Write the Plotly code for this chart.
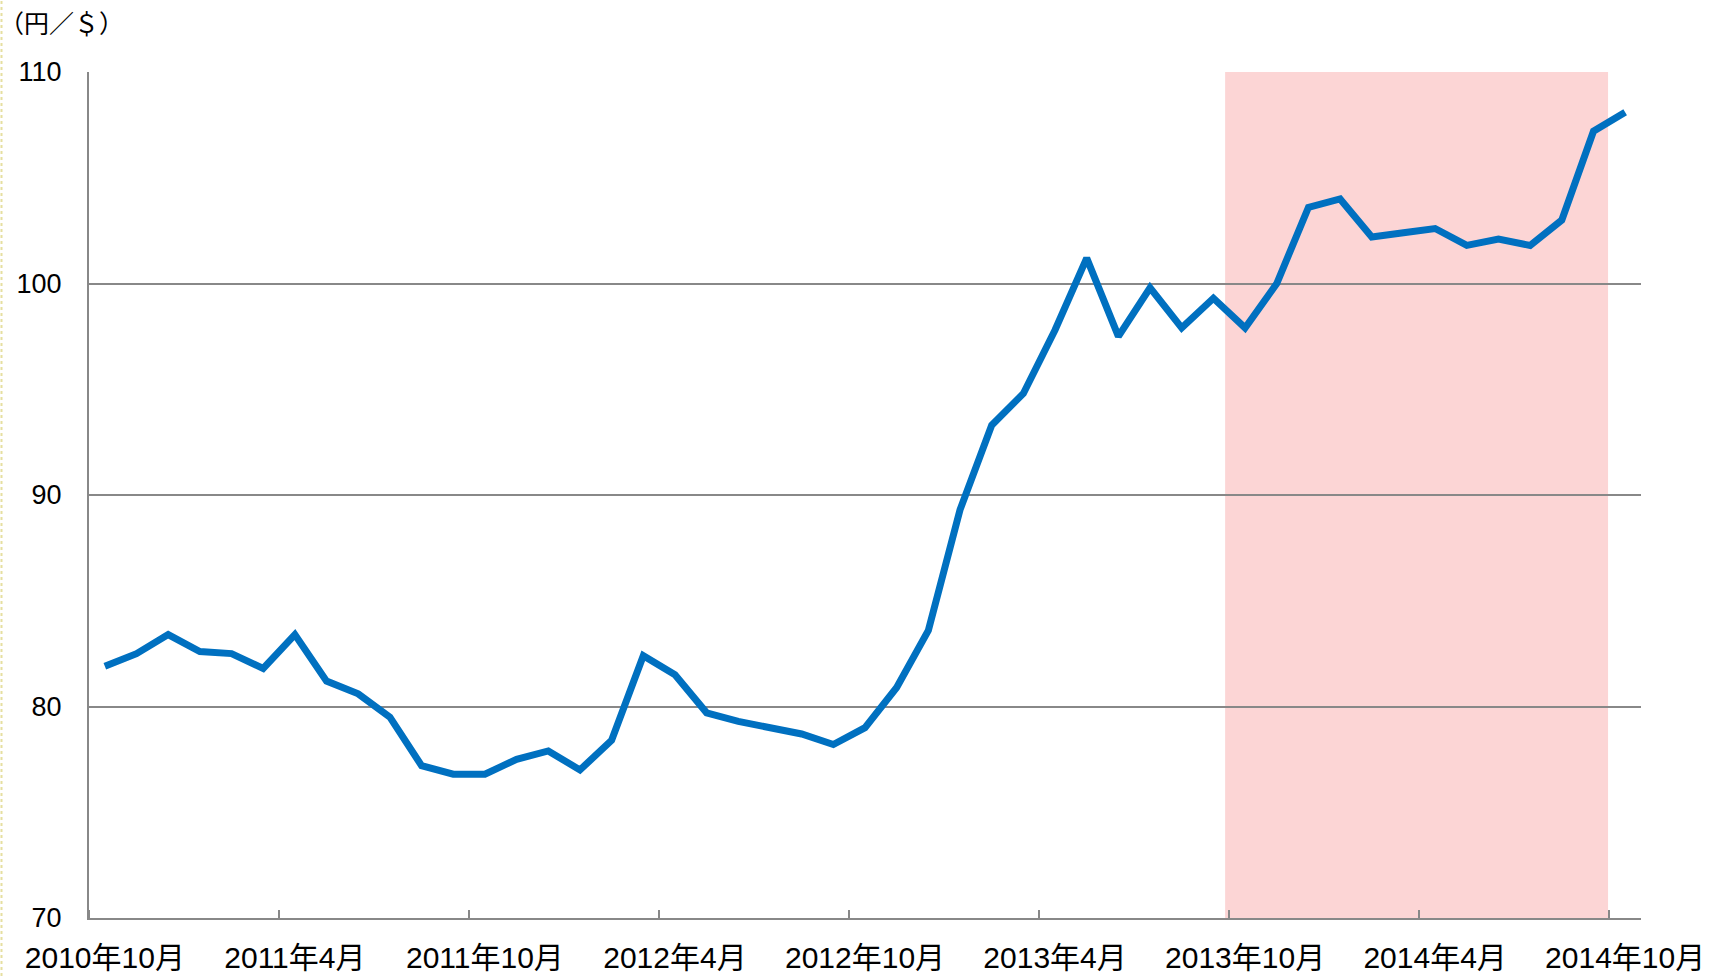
import plotly.graph_objects as go

# ---- data ----
months = [
    "2010-10", "2010-11", "2010-12",
    "2011-01", "2011-02", "2011-03", "2011-04", "2011-05", "2011-06",
    "2011-07", "2011-08", "2011-09", "2011-10", "2011-11", "2011-12",
    "2012-01", "2012-02", "2012-03", "2012-04", "2012-05", "2012-06",
    "2012-07", "2012-08", "2012-09", "2012-10", "2012-11", "2012-12",
    "2013-01", "2013-02", "2013-03", "2013-04", "2013-05", "2013-06",
    "2013-07", "2013-08", "2013-09", "2013-10", "2013-11", "2013-12",
    "2014-01", "2014-02", "2014-03", "2014-04", "2014-05", "2014-06",
    "2014-07", "2014-08", "2014-09", "2014-10",
]
usd_jpy = [
    81.9, 82.5, 83.4,
    82.6, 82.5, 81.8, 83.4, 81.2, 80.6,
    79.5, 77.2, 76.8, 76.8, 77.5, 77.9,
    77.0, 78.4, 82.4, 81.5, 79.7, 79.3,
    79.0, 78.7, 78.2, 79.0, 80.9, 83.6,
    89.3, 93.3, 94.8, 97.8, 101.2, 97.5,
    99.8, 97.9, 99.3, 97.9, 100.0, 103.6,
    104.0, 102.2, 102.4, 102.6, 101.8, 102.1,
    101.8, 103.0, 107.2, 108.1,
]
tick_months = ["2010-10", "2011-04", "2011-10", "2012-04", "2012-10",
               "2013-04", "2013-10", "2014-04", "2014-10"]
tick_labels = ["2010年10月", "2011年4月", "2011年10月", "2012年4月", "2012年10月",
               "2013年4月", "2013年10月", "2014年4月", "2014年10月"]
y_ticks = [70, 80, 90, 100, 110]
shade_start, shade_end = "2013-10", "2014-09"
unit_label = "（円／＄）"

# ---- figure ----
W, H = 1721, 976
ML, MR, MT, MB = 89, 80, 72, 58

x_idx = list(range(len(months)))
label_pos = [months.index(m) for m in tick_months]          # labels centred on category
boundary_pos = [months.index(m) - 0.5 for m in tick_months]  # tick marks between categories

fig = go.Figure()
fig.add_trace(go.Scatter(
    x=x_idx, y=usd_jpy, mode="lines",
    line=dict(color="#0070C0", width=7, shape="linear"),
    hoverinfo="skip", showlegend=False,
))

# shaded period
fig.add_shape(type="rect", xref="x", yref="paper",
              x0=months.index(shade_start) - 0.63, x1=months.index(shade_end) + 0.46,
              y0=0, y1=1, fillcolor="#FCD5D5", line=dict(width=0), layer="below")

# decorative dotted edge at far left of the page
plot_w = W - ML - MR
plot_h = H - MT - MB
fig.add_shape(type="line", xref="paper", yref="paper",
              x0=-(ML - 1.5) / plot_w, x1=-(ML - 1.5) / plot_w,
              y0=-MB / plot_h, y1=1 + MT / plot_h,
              line=dict(color="#E6DFA0", width=2, dash="dot"))

fig.add_annotation(text=unit_label, xref="paper", yref="paper",
                   x=-(ML + 3) / plot_w, y=1 + (MT - 22) / plot_h,
                   xanchor="left", yanchor="middle", showarrow=False,
                   font=dict(family="Noto Sans CJK JP", size=25, color="#000000"))

fig.update_layout(
    width=W, height=H,
    margin=dict(l=ML, r=MR, t=MT, b=MB, autoexpand=False),
    paper_bgcolor="white", plot_bgcolor="white",
    showlegend=False,
    xaxis=dict(
        range=[-0.5, len(months) - 0.5],
        automargin=False,
        tickmode="array", tickvals=label_pos, ticktext=tick_labels,
        ticks="",
        minor=dict(tickmode="array", tickvals=boundary_pos, ticks="inside",
                   ticklen=8, tickwidth=2, tickcolor="#888888", showgrid=False),
        showgrid=False, zeroline=False,
        showline=True, linecolor="#888888", linewidth=2,
        tickfont=dict(family="Liberation Sans, Noto Sans CJK JP", size=30, color="#000000"),
        ticklabelstandoff=12,
    ),
    yaxis=dict(
        range=[70, 110],
        automargin=False,
        tickmode="array", tickvals=y_ticks,
        showgrid=True, gridcolor="#888888", gridwidth=1.5,
        zeroline=False,
        showline=True, linecolor="#888888", linewidth=2,
        ticks="",
        tickfont=dict(family="Liberation Sans", size=27, color="#000000"),
        ticklabelstandoff=20,
    ),
)

fig.write_html("out.html", config={"displayModeBar": False},
               post_script="document.body.style.margin='0';document.body.style.overflow='hidden';")
